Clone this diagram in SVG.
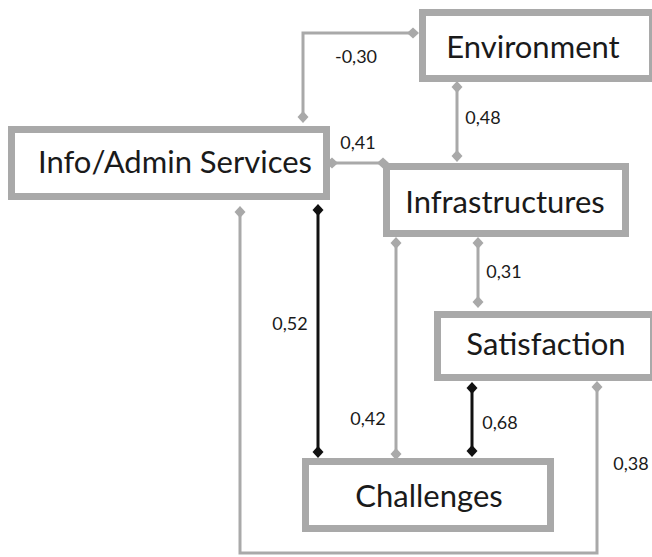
<svg xmlns="http://www.w3.org/2000/svg" width="652" height="557" viewBox="0 0 652 557">
  <defs>
    <style>
      .box { fill: #ffffff; stroke: #a9a9a9; stroke-width: 7; }
      .name { font-family: Lato, "Open Sans", "Liberation Sans", sans-serif; font-size: 31px; fill: #1a1a1a; text-anchor: middle; }
      .val { font-family: Lato, "Open Sans", "Liberation Sans", sans-serif; font-size: 18px; fill: #1a1a1a; text-anchor: middle; }
      .grey { fill: none; stroke: #a9a9a9; stroke-width: 3; }
      .dark { fill: none; stroke: #111111; stroke-width: 3; }
    </style>
    <marker id="dg" viewBox="-6 -6 12 12" markerWidth="12" markerHeight="12" markerUnits="userSpaceOnUse" refX="0" refY="0" orient="auto">
      <path d="M-6 0 L0 -5.5 L6 0 L0 5.5 Z" fill="#a9a9a9"/>
    </marker>
    <marker id="dk" viewBox="-6 -6 12 12" markerWidth="12" markerHeight="12" markerUnits="userSpaceOnUse" refX="0" refY="0" orient="auto">
      <path d="M-6 0 L0 -5.5 L6 0 L0 5.5 Z" fill="#111111"/>
    </marker>
  </defs>
  <rect width="652" height="557" fill="#ffffff"/>

  <g id="connectors">
    <path class="grey" d="M303 117 V33 H413" marker-start="url(#dg)" marker-end="url(#dg)"/>
    <path class="grey" d="M457 87 V156" marker-start="url(#dg)" marker-end="url(#dg)"/>
    <path class="grey" d="M332 163 H383" marker-start="url(#dg)" marker-end="url(#dg)"/>
    <path class="dark" d="M318 210 V452" marker-start="url(#dk)" marker-end="url(#dk)"/>
    <path class="grey" d="M240 212 V553 H597 V387" marker-start="url(#dg)" marker-end="url(#dg)"/>
    <path class="grey" d="M396 243 V454" marker-start="url(#dg)" marker-end="url(#dg)"/>
    <path class="grey" d="M478 243 V302" marker-start="url(#dg)" marker-end="url(#dg)"/>
    <path class="dark" d="M472 388 V451" marker-start="url(#dk)" marker-end="url(#dk)"/>

    <text class="val" x="356" y="63">-0,30</text>
    <text class="val" x="483" y="124">0,48</text>
    <text class="val" x="358" y="149">0,41</text>
    <text class="val" x="290" y="330">0,52</text>
    <text class="val" x="504" y="278">0,31</text>
    <text class="val" x="368" y="425">0,42</text>
    <text class="val" x="500" y="429">0,68</text>
    <text class="val" x="631" y="470">0,38</text>
  </g>

  <g id="environment">
    <rect class="box" x="422.5" y="12.5" width="230" height="66"/>
    <text class="name" x="533" y="58">Environment</text>
  </g>

  <g id="info-admin">
    <rect class="box" x="11.5" y="129.5" width="315" height="67"/>
    <text class="name" x="175" y="173">Info/Admin Services</text>
  </g>

  <g id="infrastructures">
    <rect class="box" x="386.5" y="166.5" width="239" height="67"/>
    <text class="name" x="505" y="213">Infrastructures</text>
  </g>

  <g id="satisfaction">
    <rect class="box" x="437.5" y="314.5" width="216" height="63"/>
    <text class="name" x="546" y="355">Satisfaction</text>
  </g>

  <g id="challenges">
    <rect class="box" x="305.5" y="461.5" width="245" height="67"/>
    <text class="name" x="429" y="507">Challenges</text>
  </g>
</svg>
